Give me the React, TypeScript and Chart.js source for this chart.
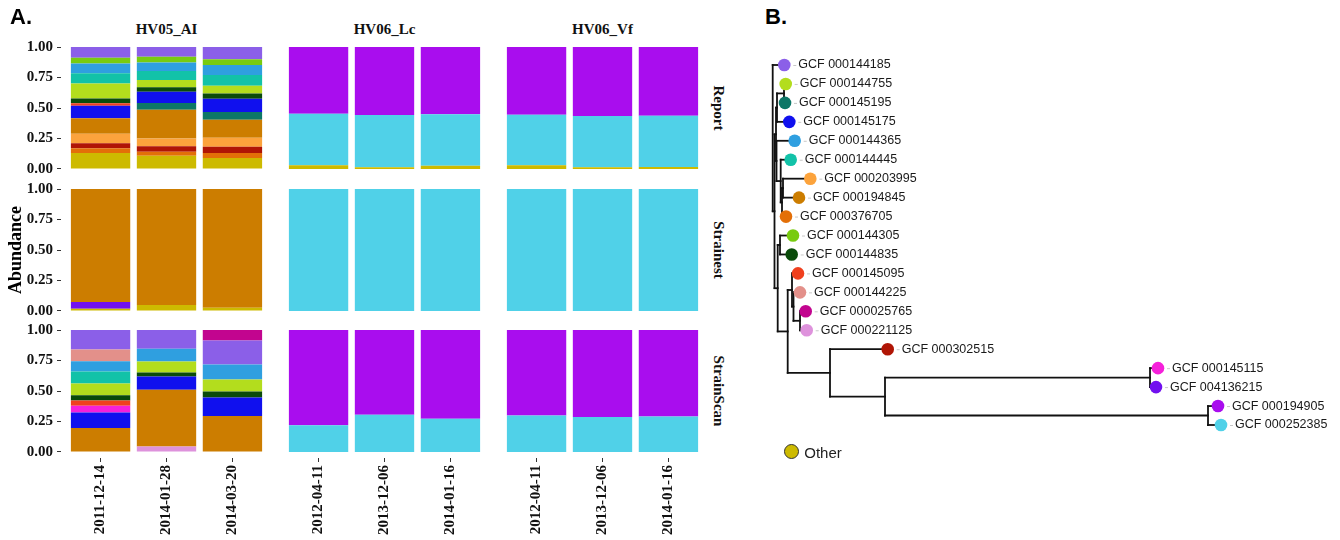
import React, { useEffect, useRef } from 'react';
import { Chart, registerables } from 'chart.js';

Chart.register(...registerables);

// ---------------- data ----------------
const groups = ['HV05_AI', 'HV06_Lc', 'HV06_Vf'];
const methods = ['Report', 'Strainest', 'StrainScan'];
const datesHV05 = ['2011-12-14', '2014-01-28', '2014-03-20'];
const datesHV06 = ['2012-04-11', '2013-12-06', '2014-01-16'];
const yTickValues = [0, 0.25, 0.5, 0.75, 1];
const yTickLabels = ['0.00', '0.25', '0.50', '0.75', '1.00'];

// alphabetical: first entry sits on top of each stack
const strainIds = [
  'GCF 000025765', 'GCF 000144185', 'GCF 000144225', 'GCF 000144305', 'GCF 000144365',
  'GCF 000144445', 'GCF 000144755', 'GCF 000144835', 'GCF 000145095', 'GCF 000145115',
  'GCF 000145175', 'GCF 000145195', 'GCF 000194845', 'GCF 000194905', 'GCF 000203995',
  'GCF 000221125', 'GCF 000252385', 'GCF 000302515', 'GCF 000376705', 'GCF 004136215',
  'Other',
];
const strainColors = [
  '#C2058F', '#8B5FE8', '#E3908A', '#78CB10', '#2F9FE0',
  '#12C2A8', '#B3DD1D', '#0A4B0A', '#F0401E', '#F520DA',
  '#1010EE', '#0D7767', '#CC7D00', '#A90DEE', '#FCA33C',
  '#DE92DC', '#50D1E8', '#B01505', '#E36F08', '#7110EF',
  '#CDBA00',
];

const reportHV05: Record<string, number[]> = {
  'GCF 000144185': [0.088, 0.080, 0.099],
  'GCF 000144305': [0.047, 0.047, 0.049],
  'GCF 000144365': [0.079, 0.070, 0.082],
  'GCF 000144445': [0.085, 0.074, 0.088],
  'GCF 000144755': [0.123, 0.058, 0.063],
  'GCF 000144835': [0.038, 0.038, 0.044],
  'GCF 000145095': [0.022, 0, 0],
  'GCF 000145175': [0.102, 0.091, 0.107],
  'GCF 000145195': [0, 0.057, 0.065],
  'GCF 000194845': [0.128, 0.236, 0.148],
  'GCF 000203995': [0.077, 0.063, 0.074],
  'GCF 000302515': [0.041, 0.046, 0.050],
  'GCF 000376705': [0.039, 0.033, 0.041],
  'Other': [0.131, 0.107, 0.090],
};
const reportHV06Lc: Record<string, number[]> = {
  'GCF 000194905': [0.547, 0.557, 0.552],
  'GCF 000252385': [0.423, 0.430, 0.423],
  'Other': [0.030, 0.013, 0.025],
};
const reportHV06Vf: Record<string, number[]> = {
  'GCF 000194905': [0.555, 0.566, 0.563],
  'GCF 000252385': [0.415, 0.421, 0.421],
  'Other': [0.030, 0.013, 0.016],
};
const strainestHV05: Record<string, number[]> = {
  'GCF 000194845': [0.927, 0.951, 0.975],
  'GCF 004136215': [0.055, 0, 0],
  'Other': [0.018, 0.049, 0.025],
};
const strainestHV06Lc: Record<string, number[]> = {
  'GCF 000252385': [1, 1, 1],
};
const strainestHV06Vf: Record<string, number[]> = {
  'GCF 000252385': [1, 1, 1],
};
const strainscanHV05: Record<string, number[]> = {
  'GCF 000025765': [0, 0, 0.085],
  'GCF 000144185': [0.159, 0.153, 0.197],
  'GCF 000144225': [0.096, 0, 0],
  'GCF 000144365': [0.085, 0.105, 0.123],
  'GCF 000144445': [0.098, 0, 0],
  'GCF 000144755': [0.096, 0.090, 0.099],
  'GCF 000144835': [0.044, 0.033, 0.049],
  'GCF 000145095': [0.044, 0, 0],
  'GCF 000145115': [0.055, 0, 0],
  'GCF 000145175': [0.126, 0.109, 0.153],
  'GCF 000194845': [0.197, 0.466, 0.294],
  'GCF 000221125': [0, 0.044, 0],
};
const strainscanHV06Lc: Record<string, number[]> = {
  'GCF 000194905': [0.782, 0.694, 0.727],
  'GCF 000252385': [0.218, 0.306, 0.273],
};
const strainscanHV06Vf: Record<string, number[]> = {
  'GCF 000194905': [0.702, 0.713, 0.710],
  'GCF 000252385': [0.298, 0.287, 0.290],
};

// phylogeny: tips 0..19 (top to bottom), internal nodes 20..38
const tipLabels = [
  'GCF 000144185', 'GCF 000144755', 'GCF 000145195', 'GCF 000145175', 'GCF 000144365',
  'GCF 000144445', 'GCF 000203995', 'GCF 000194845', 'GCF 000376705', 'GCF 000144305',
  'GCF 000144835', 'GCF 000145095', 'GCF 000144225', 'GCF 000025765', 'GCF 000221125',
  'GCF 000302515', 'GCF 000145115', 'GCF 004136215', 'GCF 000194905', 'GCF 000252385',
];
const nodeParent = [
  20, 24, 24, 23, 25, 26, 28, 28, 27, 30,
  30, 32, 33, 34, 34, 35, 37, 37, 38, 38,
  -1, 20, 21, 22, 23, 22, 25, 26, 27, 21,
  29, 29, 31, 32, 33, 31, 35, 36, 36,
];
const nodeDepth = [
  0.0116, 0.0130, 0.0123, 0.0166, 0.0220, 0.0180, 0.0376, 0.0263, 0.0133, 0.0203,
  0.0190, 0.0253, 0.0273, 0.0330, 0.0340, 0.1150, 0.3853, 0.3833, 0.4453, 0.4483,
  0, 0.0018, 0.0033, 0.0043, 0.0113, 0.0038, 0.0080, 0.0093, 0.0103, 0.0050,
  0.0073, 0.0150, 0.0193, 0.0208, 0.0273, 0.0573, 0.1123, 0.3773, 0.4353,
];

// ---------------- layout ----------------
const PANEL_L = [61, 279, 497];
const PANEL_W = 211;
const PANEL_T = [41, 183, 324];
const PANEL_H = 134;
const PAGE_H = 540;
const SERIF = '"Liberation Serif", "Times New Roman", serif';
const SANS = '"Liberation Sans", Arial, sans-serif';

const facetValues = [
  [reportHV05, reportHV06Lc, reportHV06Vf],
  [strainestHV05, strainestHV06Lc, strainestHV06Vf],
  [strainscanHV05, strainscanHV06Lc, strainscanHV06Vf],
];
const stackOrder = strainIds.slice().reverse(); // bottom first

function Facet({ r, c }: { r: number; c: number }) {
  const ref = useRef<HTMLCanvasElement | null>(null);
  const showY = c === 0;
  const showX = r === 2;
  const left = showY ? 0 : PANEL_L[c];
  const top = PANEL_T[r];
  const width = showY ? PANEL_L[c] + PANEL_W : PANEL_W;
  const height = showX ? PAGE_H - PANEL_T[r] : PANEL_H;

  useEffect(() => {
    const values = facetValues[r][c];
    const dates = c === 0 ? datesHV05 : datesHV06;
    const datasets = stackOrder
      .filter((s) => values[s])
      .map((s) => ({
        label: s,
        data: values[s].map((v, i) => ({ x: i + 1, y: v })),
        backgroundColor: strainColors[strainIds.indexOf(s)],
        borderWidth: 0,
        barPercentage: 0.9,
        categoryPercentage: 1,
      }));
    const tickFont = { family: SERIF, size: 15, weight: 'bold' as const };
    const chart = new Chart(ref.current as HTMLCanvasElement, {
      type: 'bar',
      data: { datasets },
      options: {
        responsive: false,
        animation: false,
        events: [],
        layout: { padding: 0, autoPadding: false },
        plugins: { legend: { display: false }, tooltip: { enabled: false } },
        scales: {
          x: {
            type: 'linear',
            stacked: true,
            min: 0.4,
            max: 3.6,
            offset: false,
            display: showX,
            afterBuildTicks: (s: any) => {
              s.ticks = dates.map((_, i) => ({ value: i + 1 }));
            },
            afterFit: (s: any) => {
              if (showX) s.height = height - PANEL_H;
              s.paddingLeft = 0;
              s.paddingRight = 0;
            },
            ticks: {
              callback: (_v: any, i: number) => dates[i],
              minRotation: 90,
              maxRotation: 90,
              autoSkip: false,
              font: tickFont,
              color: '#111',
              padding: 3,
            },
            grid: { drawOnChartArea: false, drawTicks: true, tickLength: 4, color: '#333', offset: false },
            border: { display: false },
          },
          y: {
            type: 'linear',
            stacked: true,
            min: -0.05,
            max: 1.05,
            display: showY,
            afterBuildTicks: (s: any) => {
              s.ticks = yTickValues.map((v) => ({ value: v }));
            },
            afterFit: (s: any) => {
              if (showY) s.width = PANEL_L[0];
              s.paddingTop = 0;
              s.paddingBottom = 0;
            },
            ticks: {
              callback: (_v: any, i: number) => yTickLabels[i],
              font: tickFont,
              color: '#111',
              padding: 4,
            },
            grid: { drawOnChartArea: false, drawTicks: true, tickLength: 4, color: '#333' },
            border: { display: false },
          },
        },
      } as any,
    });
    return () => chart.destroy();
  }, [r, c]);

  return (
    <canvas
      ref={ref}
      width={width}
      height={height}
      style={{ position: 'absolute', left, top, width, height }}
    />
  );
}

const TREE_LEFT = 760;
const TREE_TOP = 40;
const TREE_W = 580;
const TREE_H = 440;
const TREE_XMIN = -0.0127;
const TREE_XMAX = 0.5673;
const TREE_YMIN = -1.3195;
const TREE_YMAX = 21.903;

function Tree() {
  const ref = useRef<HTMLCanvasElement | null>(null);
  useEffect(() => {
    const nTips = tipLabels.length;
    const children: number[][] = nodeParent.map(() => []);
    nodeParent.forEach((p, i) => {
      if (p >= 0) children[p].push(i);
    });
    const ys: number[] = [];
    const yOf = (i: number): number => {
      if (i < nTips) return i;
      if (ys[i] === undefined) {
        const cy = children[i].map(yOf);
        ys[i] = cy.reduce((a, b) => a + b, 0) / cy.length;
      }
      return ys[i];
    };
    const edgeSets: { x: number; y: number }[][] = [];
    nodeParent.forEach((_, i) => {
      if (i < nTips) return;
      const cy = children[i].map(yOf);
      edgeSets.push([
        { x: nodeDepth[i], y: Math.min(...cy) },
        { x: nodeDepth[i], y: Math.max(...cy) },
      ]);
      children[i].forEach((ch) => {
        edgeSets.push([
          { x: nodeDepth[i], y: yOf(ch) },
          { x: nodeDepth[ch], y: yOf(ch) },
        ]);
      });
    });
    const tipColors = tipLabels.map((l) => strainColors[strainIds.indexOf(l)]);
    const labelPlugin = {
      id: 'tipLabels',
      afterDatasetsDraw(chart: any) {
        const { ctx } = chart;
        const xs = chart.scales.x;
        const yss = chart.scales.y;
        ctx.save();
        ctx.font = `12.5px ${SANS}`;
        ctx.textBaseline = 'middle';
        tipLabels.forEach((lab, i) => {
          const px = xs.getPixelForValue(nodeDepth[i]);
          const py = yss.getPixelForValue(i);
          ctx.strokeStyle = '#c8c8c8';
          ctx.lineWidth = 1;
          ctx.beginPath();
          ctx.moveTo(px + 9, py + 0.5);
          ctx.lineTo(px + 12, py + 0.5);
          ctx.stroke();
          ctx.fillStyle = '#1a1a1a';
          ctx.fillText(lab, px + 14, py);
        });
        ctx.restore();
      },
    };
    const chart = new Chart(ref.current as HTMLCanvasElement, {
      type: 'scatter',
      data: {
        datasets: [
          {
            data: tipLabels.map((_, i) => ({ x: nodeDepth[i], y: i })),
            pointRadius: 6.3,
            pointBackgroundColor: tipColors,
            pointBorderWidth: 0,
            showLine: false,
          },
          ...edgeSets.map((pts) => ({
            data: pts,
            showLine: true,
            borderColor: '#111',
            borderWidth: 1.8,
            pointRadius: 0,
            borderCapStyle: 'square',
          })),
        ],
      },
      options: {
        responsive: false,
        animation: false,
        events: [],
        layout: { padding: 0, autoPadding: false },
        plugins: { legend: { display: false }, tooltip: { enabled: false } },
        scales: {
          x: { type: 'linear', min: TREE_XMIN, max: TREE_XMAX, display: false },
          y: { type: 'linear', min: TREE_YMIN, max: TREE_YMAX, reverse: true, display: false },
        },
      } as any,
      plugins: [labelPlugin],
    } as any);
    return () => chart.destroy();
  }, []);
  return (
    <canvas
      ref={ref}
      width={TREE_W}
      height={TREE_H}
      style={{ position: 'absolute', left: TREE_LEFT, top: TREE_TOP, width: TREE_W, height: TREE_H }}
    />
  );
}

const centered = (x: number, y: number, rot = 0): React.CSSProperties => ({
  position: 'absolute',
  left: x,
  top: y,
  transform: `translate(-50%, -50%) rotate(${rot}deg)`,
  whiteSpace: 'nowrap',
  lineHeight: 1,
});

export default function App() {
  return (
    <div
      style={{
        position: 'fixed',
        left: 0,
        top: 0,
        width: 1340,
        height: 540,
        background: '#fff',
        overflow: 'hidden',
      }}
    >
      {methods.map((m, r) => groups.map((g, c) => <Facet key={`${m}-${g}`} r={r} c={c} />))}

      {groups.map((g, c) => (
        <div
          key={g}
          style={{ ...centered(PANEL_L[c] + PANEL_W / 2, 29), font: `bold 15px ${SERIF}`, color: '#111' }}
        >
          {g}
        </div>
      ))}
      {methods.map((m, r) => (
        <div
          key={m}
          style={{ ...centered(718, PANEL_T[r] + PANEL_H / 2, 90), font: `bold 15px ${SERIF}`, color: '#111' }}
        >
          {m}
        </div>
      ))}
      <div style={{ ...centered(15, 250, -90), font: `bold 18px ${SERIF}`, color: '#000' }}>Abundance</div>

      <div style={{ position: 'absolute', left: 10, top: 6, font: `bold 22px ${SANS}`, lineHeight: '22px', color: '#000' }}>A.</div>
      <div style={{ position: 'absolute', left: 765, top: 6, font: `bold 22px ${SANS}`, lineHeight: '22px', color: '#000' }}>B.</div>

      <Tree />

      <div
        style={{
          position: 'absolute',
          left: 784,
          top: 444,
          width: 13,
          height: 13,
          borderRadius: '50%',
          background: strainColors[strainIds.indexOf('Other')],
          border: '1px solid #333',
        }}
      />
      <div style={{ ...centered(823, 452), font: `15px ${SANS}`, color: '#222' }}>Other</div>
    </div>
  );
}
